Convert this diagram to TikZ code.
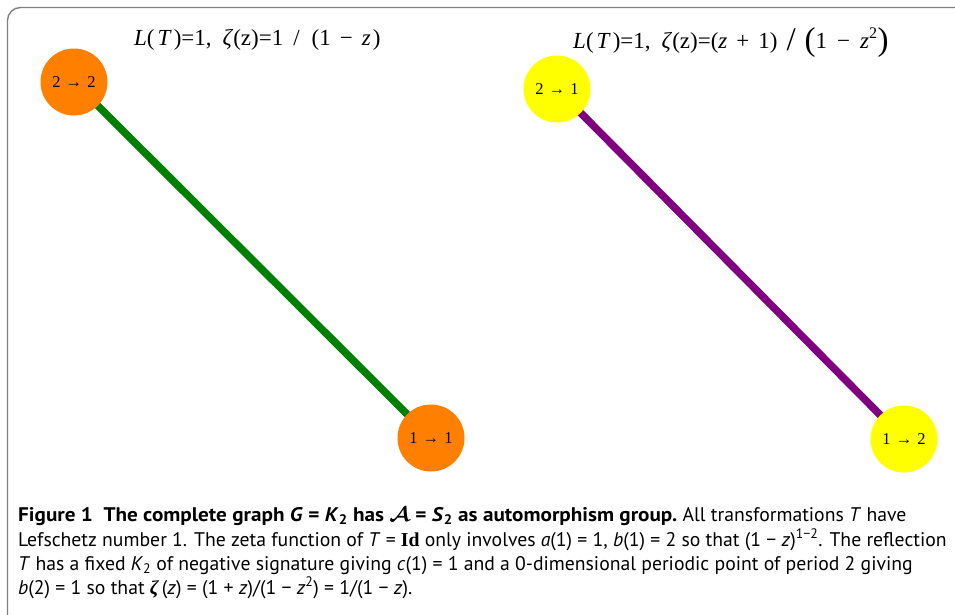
\documentclass[tikz,border=0pt]{standalone}
\usepackage{fontspec}
\usepackage{graphicx}
\setmainfont{PT Sans}
\newfontfamily\tserif{Liberation Serif}
\usetikzlibrary{backgrounds}
\definecolor{nodeorange}{RGB}{255,127,0}
\definecolor{nodeyellow}{RGB}{255,255,0}
\definecolor{edgegreen}{RGB}{0,128,0}
\definecolor{edgepurple}{RGB}{128,0,128}
\definecolor{framegray}{RGB}{128,128,128}
\newcommand{\bigdelim}[1]{{\fontsize{33}{33}\selectfont\raisebox{-2.5pt}{#1}}}
\newcommand{\hs}[1]{\hspace{#1pt}}
\begin{document}
\begin{tikzpicture}[x=1pt,y=-1pt,
  vtx/.style={circle,minimum size=67pt,inner sep=0pt,font=\tserif\fontsize{16.5}{18}\selectfont},
  edgeline/.style={line width=7.5pt},
  titletext/.style={inner sep=0pt,anchor=base west,font=\tserif\fontsize{23}{27}\selectfont},
  capline/.style={anchor=base west,inner sep=0pt,font=\fontsize{19.7}{24}\selectfont}]
\useasboundingbox (0,0) rectangle (955,614);
\draw[framegray,line width=1.4pt,rounded corners=13pt] (970,7.5) -- (7.5,7.5) -- (7.5,630);
% titles
\node[titletext] (t1) at (134,45) {\textit{L}(\hs{3}\textit{T}\hs{2})=1,\hs{11}\textit{ζ}(z)=1\hs{10}/\hs{12}(1\hs{9}−\hs{9}\textit{z}\hs{2})};
\node[titletext] (t2) at (573,48) {\textit{L}(\hs{3}\textit{T}\hs{2})=1,\hs{11}\textit{ζ}(z)=(\textit{z}\hs{9}+\hs{9}1)\hs{9}\bigdelim{/}\hs{9}\bigdelim{(}1\hs{10}−\hs{10}\textit{z}\textsuperscript{2}\bigdelim{)}};
% nodes
\node[vtx,fill=nodeorange] (a2) at (74,82) {2\hs{1} → \hs{1}2};
\node[vtx,fill=nodeorange] (a1) at (431,438) {1\hs{1} → \hs{1}1};
\node[vtx,fill=nodeyellow] (b2) at (557,89) {2\hs{1} → \hs{1}1};
\node[vtx,fill=nodeyellow] (b1) at (904,439) {1\hs{1} → \hs{1}2};
\begin{pgfonlayer}{background}
\draw[edgeline,edgegreen] (a2.center) -- (a1.center);
\draw[edgeline,edgepurple] (b2.center) -- (b1.center);
\end{pgfonlayer}
% caption
\node[capline] (c1) at (18,521) {\scalebox{1.075}[1]{\textbf{Figure 1\enspace The complete graph \textit{G} = \textit{K}\textsubscript{2} has {\boldmath$\mathcal{A}$} = \textit{S}\textsubscript{2} as automorphism group.}} All transformations \textit{T} have};
\node[capline] (c2) at (18,546) {Lefschetz number 1. The zeta function of \textit{T} = {\tserif\bfseries Id} only involves \textit{a}(1) = 1, \textit{b}(1) = 2 so that (1 − \textit{z})\textsuperscript{1−2}. The reflection};
\node[capline] (c3) at (18,570) {\textit{T} has a fixed \textit{K}\textsubscript{2} of negative signature giving \textit{c}(1) = 1 and a 0-dimensional periodic point of period 2 giving};
\node[capline] (c4) at (18,594) {\textit{b}(2) = 1 so that {\tserif\bfseries\itshape ζ}\,(\textit{z}) = (1 + \textit{z})/(1 − \textit{z}\textsuperscript{2}) = 1/(1 − \textit{z}).};
\end{tikzpicture}
\end{document}
